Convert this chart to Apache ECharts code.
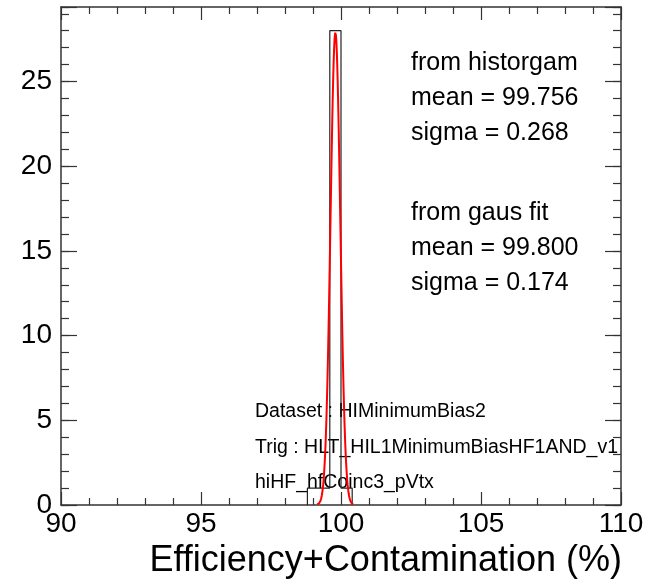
<!DOCTYPE html>
<html>
<head>
<meta charset="utf-8">
<script src="https://cdn.jsdelivr.net/npm/echarts@6/dist/echarts.min.js"></script>
<style>
  html, body { margin: 0; padding: 0; background: #fff; }
  #chart { width: 660px; height: 583px; }
</style>
</head>
<body>
<div id="chart"></div>
<script>
// Histogram bins (edges and entries per bin)
const binEdges = [98.8, 99.2, 99.6, 100.0, 100.4];
const binCounts = [1, 1, 28, 1];

// Gaussian fit parameters and the range it was fitted over
const fitConstant = 27.9;
const fitMean = 99.800;
const fitSigma = 0.174;
const fitRange = [99.15, 100.45];

// Axis ranges
const xRange = [90, 110];
const yRange = [0, 29.4];

// Text blocks
const histStats = ['from historgam', 'mean = 99.756', 'sigma = 0.268'];
const fitStats = ['from gaus fit', 'mean = 99.800', 'sigma = 0.174'];
const infoLines = ['Dataset : HIMinimumBias2', 'Trig : HLT_HIL1MinimumBiasHF1AND_v1', 'hiHF_hfCoinc3_pVtx'];
const xTitle = 'Efficiency+Contamination (%)';

const FONT = '"Liberation Sans", Arial, Helvetica, sans-serif';
const FRAME = '#333';

// Step outline of the histogram
const histOutline = [[binEdges[0], 0]];
for (let i = 0; i < binCounts.length; i++) {
  histOutline.push([binEdges[i], binCounts[i]]);
  histOutline.push([binEdges[i + 1], binCounts[i]]);
}
histOutline.push([binEdges[binEdges.length - 1], 0]);

// Fit function sampled over its range
const fitCurve = [];
const nSamples = 200;
for (let k = 0; k <= nSamples; k++) {
  const x = fitRange[0] + (fitRange[1] - fitRange[0]) * k / nSamples;
  const z = (x - fitMean) / fitSigma;
  fitCurve.push([x, fitConstant * Math.exp(-0.5 * z * z)]);
}

const gridBox = { left: 61, right: 39, top: 7, bottom: 78 };

function xAxisCfg(gridIndex, position, showLabels, showLine) {
  return {
    type: 'value', gridIndex, position,
    min: xRange[0], max: xRange[1], interval: 5,
    axisLine: { show: showLine, onZero: false, lineStyle: { color: FRAME, width: 1.5 } },
    axisTick: { show: true, inside: true, length: 13, lineStyle: { color: FRAME, width: 1.2 } },
    minorTick: { show: true, splitNumber: 5, length: 7, lineStyle: { color: FRAME, width: 1.2 } },
    axisLabel: { show: showLabels, color: '#000', fontSize: 28, fontFamily: FONT, margin: 5 },
    splitLine: { show: false }
  };
}

function yAxisCfg(gridIndex, position, interval, tickLen, showLabels, showLine) {
  return {
    type: 'value', gridIndex, position,
    min: yRange[0], max: yRange[1], interval,
    axisLine: { show: showLine, onZero: false, lineStyle: { color: FRAME, width: 1.5 } },
    axisTick: { show: true, inside: true, length: tickLen, lineStyle: { color: FRAME, width: 1.2 } },
    axisLabel: {
      show: showLabels, color: '#000', fontSize: 28, fontFamily: FONT, margin: 9,
      formatter: v => (Math.abs(v % 5) < 1e-9 ? String(v) : '')
    },
    splitLine: { show: false }
  };
}

const chart = echarts.init(document.getElementById('chart'), null, { renderer: 'canvas' });

chart.setOption({
  animation: false,
  backgroundColor: '#fff',
  grid: [
    Object.assign({}, gridBox),
    Object.assign({}, gridBox),
    Object.assign({}, gridBox)
  ],
  xAxis: [
    xAxisCfg(0, 'bottom', true, true),
    xAxisCfg(1, 'top', false, true),
    Object.assign(xAxisCfg(2, 'bottom', false, false), { show: false })
  ],
  yAxis: [
    yAxisCfg(0, 'left', 1, 8, false, true),
    yAxisCfg(1, 'right', 1, 8, false, true),
    yAxisCfg(2, 'left', 5, 16, true, false),
    yAxisCfg(2, 'right', 5, 16, false, false)
  ],
  series: [
    {
      type: 'line', xAxisIndex: 0, yAxisIndex: 0,
      data: histOutline, symbol: 'none',
      lineStyle: { color: '#222', width: 1.2 },
      z: 3
    },
    {
      type: 'line', xAxisIndex: 0, yAxisIndex: 0,
      data: fitCurve, symbol: 'none', smooth: false,
      lineStyle: { color: '#ff0000', width: 2 },
      z: 4
    }
  ],
  graphic: [
    {
      type: 'text', left: 411, top: 46,
      style: { text: histStats.join('\n'), font: '25px ' + FONT, fill: '#000', lineHeight: 35 }
    },
    {
      type: 'text', left: 411, top: 196,
      style: { text: fitStats.join('\n'), font: '25px ' + FONT, fill: '#000', lineHeight: 35 }
    },
    {
      type: 'text', left: 255, top: 394,
      style: { text: infoLines.join('\n'), font: '19.5px ' + FONT, fill: '#000', lineHeight: 35.5 }
    },
    {
      type: 'text', right: 38, top: 543,
      style: { text: xTitle, font: '36px ' + FONT, fill: '#000' }
    }
  ]
});
</script>
</body>
</html>
